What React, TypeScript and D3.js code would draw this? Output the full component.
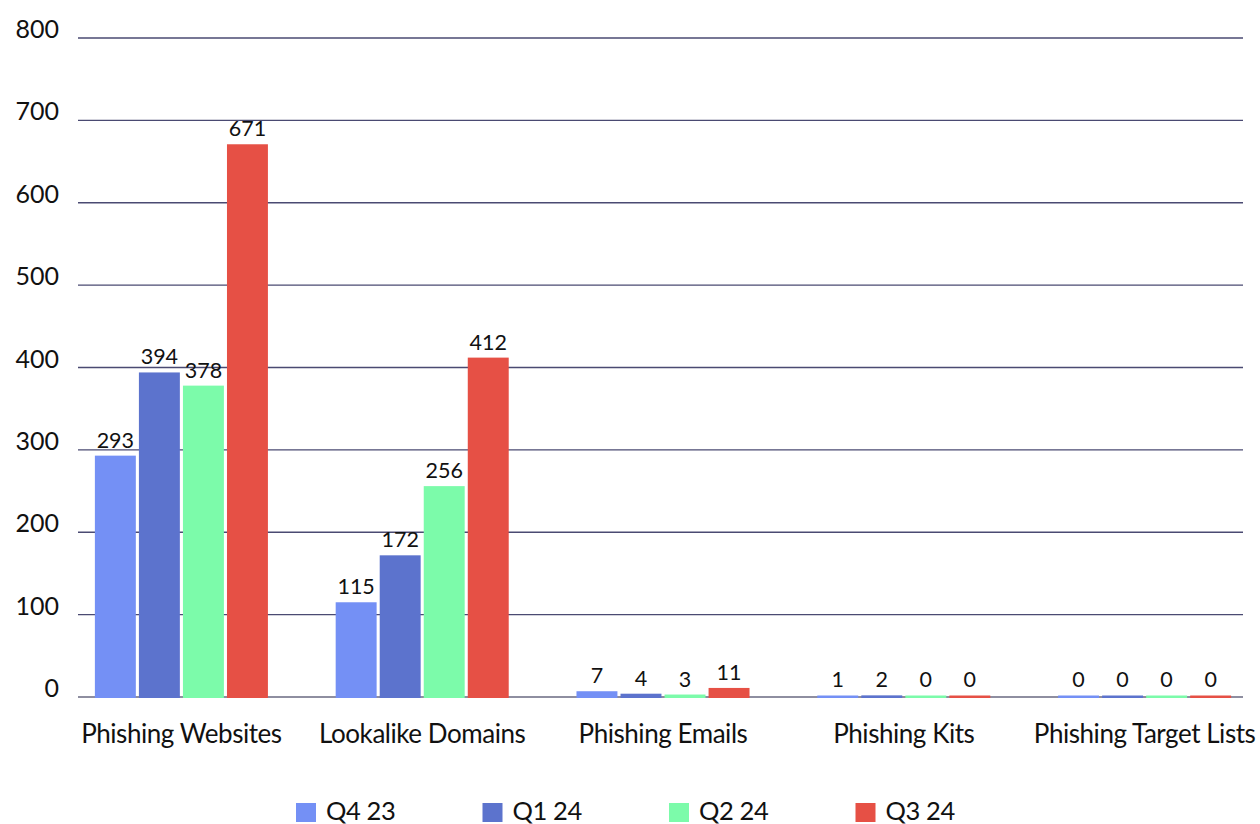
import React from "react";
import * as d3 from "d3";

const categories = ["Phishing Websites", "Lookalike Domains", "Phishing Emails", "Phishing Kits", "Phishing Target Lists"];
const seriesNames = ["Q4 23", "Q1 24", "Q2 24", "Q3 24"];
const q423 = [293, 115, 7, 1, 0];
const q124 = [394, 172, 4, 2, 0];
const q224 = [378, 256, 3, 0, 0];
const q324 = [671, 412, 11, 0, 0];
const seriesValues = [q423, q124, q224, q324];
const colors = ["#7490F5", "#5C73CD", "#7CFBAA", "#E65045"];
const yTicks = [0, 100, 200, 300, 400, 500, 600, 700, 800];

const W = 1260;
const H = 824;
const FONT = "Lato, 'Open Sans', sans-serif";

export default function App() {
  const plotLeft = 78;
  const plotRight = 1243;
  const y = d3.scaleLinear().domain([0, 800]).range([697, 38]);
  const x0 = d3.scaleBand<string>().domain(categories).range([61, 1265]).paddingInner(0.2814).paddingOuter(0.1407);
  const x1 = d3.scaleBand<string>().domain(seriesNames).range([0, x0.bandwidth()]).paddingInner(0.07);
  const base = y(0);

  return (
    <svg width={W} height={H} style={{ position: "absolute", left: 0, top: 0, background: "#fff" }} fontFamily={FONT}>
      {yTicks.map((t) => (
        <g key={t}>
          {t !== 0 && (
            <line x1={plotLeft} x2={plotRight} y1={y(t)} y2={y(t)} stroke="#4a4a72" strokeWidth={1.3} />
          )}
          <text x={59} y={y(t)} textAnchor="end" fontSize={25} fill="#111">
            {t}
          </text>
        </g>
      ))}
      <line x1={plotLeft} x2={plotRight} y1={base} y2={base} stroke="#8e8ea0" strokeWidth={2} />
      {categories.map((c, ci) => (
        <g key={c} transform={`translate(${x0(c)},0)`}>
          {seriesNames.map((s, si) => {
            const v = seriesValues[si][ci];
            const top = Math.min(y(v), base - 1.5);
            return (
              <g key={s}>
                <rect x={x1(s)} y={top} width={x1.bandwidth()} height={base + 1 - top} fill={colors[si]} />
                <text
                  x={(x1(s) as number) + x1.bandwidth() / 2}
                  y={Math.min(y(v), base - 2) - 8}
                  textAnchor="middle"
                  fontSize={21.5}
                  fill="#111"
                >
                  {v}
                </text>
              </g>
            );
          })}
          <text
            x={x0.bandwidth() / 2}
            y={743}
            textAnchor="middle"
            fontSize={26}
            letterSpacing={-0.45}
            fill="#111"
          >
            {c}
          </text>
        </g>
      ))}
      {seriesNames.map((s, si) => (
        <g key={s} transform={`translate(${296 + si * 186.5},0)`}>
          <rect x={0} y={803} width={20} height={19} fill={colors[si]} />
          <text x={30} y={819.5} fontSize={25.5} letterSpacing={-0.4} fill="#111">
            {s}
          </text>
        </g>
      ))}
    </svg>
  );
}
